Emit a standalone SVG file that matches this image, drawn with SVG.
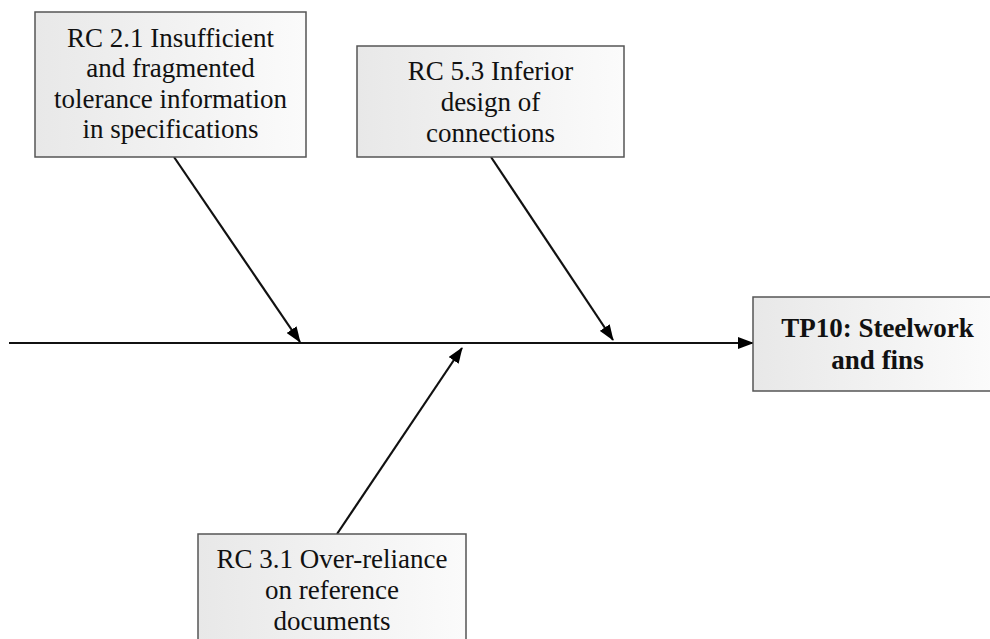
<svg xmlns="http://www.w3.org/2000/svg" width="990" height="639" viewBox="0 0 990 639">
<defs>
<linearGradient id="g" x1="0" y1="0" x2="1" y2="0">
<stop offset="0" stop-color="#e8e8e8"/>
<stop offset="1" stop-color="#fbfbfb"/>
</linearGradient>
<marker id="ah" markerWidth="16" markerHeight="12" refX="15" refY="6" orient="auto" markerUnits="userSpaceOnUse">
<path d="M0,0 L16,6 L0,12 Z" fill="#000"/>
</marker>
<style>
.box{fill:url(#g);stroke:#555;stroke-width:1.5}
.t{font-family:"Liberation Serif","Times New Roman",serif;font-size:27px;fill:#111;text-anchor:middle}
.b{font-weight:bold}
.c{stroke:#111;stroke-width:2.2;fill:none;marker-end:url(#ah)}
</style>
</defs>
<rect width="990" height="639" fill="#fff"/>
<g id="connectors">
<line class="c" x1="9" y1="343" x2="753" y2="343"/>
<line class="c" x1="174" y1="157" x2="300" y2="342"/>
<line class="c" x1="491" y1="157" x2="613" y2="340"/>
<line class="c" x1="337" y1="534" x2="462" y2="348"/>
</g>
<g id="rc21">
<rect class="box" x="35" y="12" width="271" height="145"/>
<text class="t" x="170.5" y="47">RC 2.1 Insufficient</text>
<text class="t" x="170.5" y="77">and fragmented</text>
<text class="t" x="170.5" y="108">tolerance information</text>
<text class="t" x="170.5" y="138">in specifications</text>
</g>
<g id="rc53">
<rect class="box" x="357" y="46" width="267" height="111"/>
<text class="t" x="490.5" y="80">RC 5.3 Inferior</text>
<text class="t" x="490.5" y="111">design of</text>
<text class="t" x="490.5" y="142">connections</text>
</g>
<g id="tp10">
<rect class="box" x="753" y="297" width="240" height="94"/>
<text class="t b" x="877.5" y="337">TP10: Steelwork</text>
<text class="t b" x="877.5" y="369">and fins</text>
</g>
<g id="rc31">
<rect class="box" x="198" y="534" width="268" height="112"/>
<text class="t" x="332" y="568">RC 3.1 Over-reliance</text>
<text class="t" x="332" y="599">on reference</text>
<text class="t" x="332" y="630">documents</text>
</g>
</svg>
